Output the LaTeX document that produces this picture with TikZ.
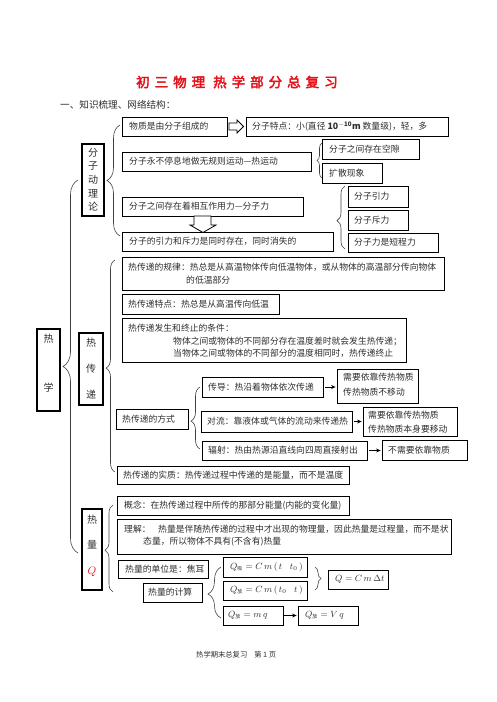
\documentclass[tikz,border=0pt]{standalone}
\usepackage{fontspec}
\setmainfont{Noto Sans CJK SC}
\newfontfamily\titlefont[FakeBold=3]{Noto Sans CJK SC}
\usetikzlibrary{decorations.pathreplacing,calc,fit,arrows.meta}
\newcommand\fs{\fontsize{8.8}{11}\selectfont}
\newcommand\tsp{\hspace{5pt}}
\definecolor{titlered}{RGB}{228,20,28}
\definecolor{txtc}{RGB}{45,45,45}
\begin{document}
\begin{tikzpicture}[x=1pt,y=-1pt,
  bx/.style={draw=black, line width=0.8pt, inner sep=0pt},
  hbx/.style={draw=black, line width=1.8pt, inner sep=0pt},
  txt/.style={anchor=west, inner sep=0pt, font=\fs, text=txtc},
  ctxt/.style={inner sep=0pt, font=\fontsize{10}{10}\selectfont, text=txtc},
  brc/.style={draw=black!75, line width=0.6pt, decorate},
  arr/.style={-{Stealth[length=4.5pt,width=4pt]}, line width=1pt, shorten <=2pt, shorten >=1pt},
  hollow/.style={draw=black, line width=0.8pt, fill=white}
]
\useasboundingbox (0,0) rectangle (496,702);

% title and heading
\node[inner sep=0pt, anchor=west, font=\titlefont\fontsize{13.5}{13.5}\selectfont, text=titlered] (title) at (136,82)
  {初\tsp 三\tsp 物\tsp 理\hspace{8pt}热\tsp 学\tsp 部\tsp 分\tsp 总\tsp 复\tsp 习};
\node[inner sep=0pt, anchor=west, font=\fontsize{9.6}{10}\selectfont, text=txtc] (head) at (60,105) {一、知识梳理、网络结构：};

% left column boxes
\node[hbx, fit={(37,329) (60,411)}] (L2) {};
\node[ctxt] (L2a) at (48.5,339) {热};
\node[ctxt] (L2b) at (48.5,388) {学};

\node[hbx, line width=1.5pt, fit={(82,144) (104,216)}] (L1) {};
\node[ctxt] (L1a) at (93,153) {分};
\node[ctxt] (L1b) at (93,166.5) {子};
\node[ctxt] (L1c) at (93,180) {动};
\node[ctxt] (L1d) at (93,193.5) {理};
\node[ctxt] (L1e) at (93,207) {论};

\node[hbx, line width=1.5pt, fit={(79,333) (103,405)}] (L3) {};
\node[ctxt] (L3a) at (91,343) {热};
\node[ctxt] (L3b) at (91,369) {传};
\node[ctxt] (L3c) at (91,395) {递};

\node[hbx, fit={(82,509) (102,590)}] (L4) {};
\node[ctxt] (L4a) at (92,520) {热};
\node[ctxt] (L4b) at (92,545) {量};
\node[ctxt, font=\fontsize{11}{11}\selectfont, text=titlered] (L4c) at (92,572) {$Q$};

% braces
\draw[brc, decoration={brace, amplitude=15pt, aspect=0.5}] (78,553) -- (78,180);
\draw[brc, decoration={brace, amplitude=13pt, aspect=0.5}] (120,236) -- (120,125);
\draw[brc, decoration={brace, amplitude=9pt, aspect=0.49}] (115,472) -- (115,260);
\draw[brc, decoration={brace, amplitude=8pt, aspect=0.48}] (113,592) -- (113,505);
\draw[brc, decoration={brace, amplitude=5pt, aspect=0.5}] (322,178) -- (322,143);
\draw[brc, decoration={brace, amplitude=8pt, aspect=0.45}] (345,249) -- (345,186);
\draw[brc, decoration={brace, amplitude=9pt, aspect=0.45}] (200,449) -- (200,387);
\draw[brc, decoration={brace, amplitude=13pt, aspect=0.47}] (221,618) -- (221,567);
\draw[brc, decoration={brace, amplitude=6pt, aspect=0.5}] (315,567) -- (315,590);

% 分子动理论
\node[bx, fit={(122,117) (227,136)}] (b1) {};
\node[txt] (b1t) at (129,126.5) {物质是由分子组成的};
\node[bx, fit={(246,117) (448,136)}] (b2) {};
\node[txt] (b2t) at (252,126.5) {分子特点：小(直径 {\bfseries 10$^{\mathbf{-10}}$m} 数量级)，轻，多};
\draw[hollow] (229,123) -- (237,123) -- (237,120) -- (243.5,126.5) -- (237,133) -- (237,130) -- (229,130) -- cycle;

\node[bx, fit={(122,152) (311,171)}] (b3) {};
\node[txt] (b3t) at (129,161.5) {分子永不停息地做无规则运动—热运动};
\node[bx, fit={(322,139) (419,159)}] (b4) {};
\node[txt] (b4t) at (329,149) {分子之间存在空隙};
\node[bx, fit={(322,163) (382,183)}] (b5) {};
\node[txt] (b5t) at (329,173) {扩散现象};

\node[bx, fit={(122,197) (303,216)}] (b6) {};
\node[txt] (b6t) at (129,206.5) {分子之间存在着相互作用力—分子力};
\node[bx, fit={(122,232) (333,251)}] (b7) {};
\node[txt] (b7t) at (129,241.5) {分子的引力和斥力是同时存在，同时消失的};
\draw[hollow] (194,216) -- (211,216) -- (211,225) -- (216,225) -- (203,232.5) -- (190,225) -- (194,225) -- cycle;

\node[bx, fit={(348,186) (408,207)}] (b8) {};
\node[txt] (b8t) at (354,196.5) {分子引力};
\node[bx, fit={(348,210) (408,230)}] (b9) {};
\node[txt] (b9t) at (354,220) {分子斥力};
\node[bx, fit={(348,233) (438,252)}] (b10) {};
\node[txt] (b10t) at (354,242.5) {分子力是短程力};

% 热传递
\node[bx, fit={(122,257) (444,290)}] (c1) {};
\node[txt] (c1a) at (128,267) {热传递的规律：热总是从高温物体传向低温物体，或从物体的高温部分传向物体};
\node[txt] (c1b) at (186,280) {的低温部分};
\node[bx, fit={(122,294) (279,314)}] (c2) {};
\node[txt] (c2t) at (128,304) {热传递特点：热总是从高温传向低温};
\node[bx, fit={(122,318) (406,362)}] (c3) {};
\node[txt] (c3a) at (128,328) {热传递发生和终止的条件：};
\node[txt] (c3b) at (173,341) {物体之间或物体的不同部分存在温度差时就会发生热传递；};
\node[txt] (c3c) at (173,353) {当物体之间或物体的不同部分的温度相同时，热传递终止};

\node[bx, fit={(202,377) (323,397)}] (d1) {};
\node[txt] (d1t) at (208,387) {传导：热沿着物体依次传递};
\node[bx, fit={(337,369) (418,403)}] (d2) {};
\node[txt] (d2a) at (343,377) {需要依靠传热物质};
\node[txt] (d2b) at (343,392) {传热物质不移动};
\node[bx, fit={(116,409) (188,429)}] (d3) {};
\node[txt] (d3t) at (122,419) {热传递的方式};
\node[bx, fit={(201,411) (352,432)}] (d4) {};
\node[txt] (d4t) at (207,421.5) {对流：靠液体或气体的流动来传递热};
\node[bx, fit={(363,407) (457,436)}] (d5) {};
\node[txt] (d5a) at (368,415.5) {需要依靠传热物质};
\node[txt] (d5b) at (368,429) {传热物质本身要移动};
\node[bx, fit={(202,441) (367,460)}] (d6) {};
\node[txt] (d6t) at (208,450.5) {辐射：热由热源沿直线向四周直接射出};
\node[bx, fit={(382,440) (467,460)}] (d7) {};
\node[txt] (d7t) at (388,450) {不需要依靠物质};
\node[bx, fit={(117,466) (349,484)}] (d8) {};
\node[txt] (d8t) at (123,475) {热传递的实质：热传递过程中传递的是能量，而不是温度};

\draw[arr] (d1.east) -- (d1.east -| d2.west);
\draw[arr] (d4.east) -- (d4.east -| d5.west);
\draw[arr] (d6.east) -- (d6.east -| d7.west);

% 热量
\node[bx, fit={(117,496) (349,515)}] (e1) {};
\node[txt] (e1t) at (124,505.5) {概念：在热传递过程中所传的那部分能量(内能的变化量)};
\node[bx, fit={(117,519) (451,554)}] (e2) {};
\node[txt] (e2a) at (124,529) {理解：};
\node[txt] (e2b) at (158,529) {热量是伴随热传递的过程中才出现的物理量，因此热量是过程量，而不是状};
\node[txt] (e2c) at (143,542) {态量，所以物体不具有(不含有)热量};
\node[bx, fit={(118,560) (208,578)}] (e3) {};
\node[txt] (e3t) at (125,569) {热量的单位是：焦耳};
\node[bx, fit={(143,583) (202,602)}] (e4) {};
\node[txt] (e4t) at (148,592.5) {热量的计算};

\node[bx, fit={(223,557) (307,577)}] (f1) {};
\node[txt] (f1t) at (230,567) {$Q_{\mbox{\fontsize{5}{5}\selectfont 吸}}=C\,m\,(\,t\;\;\;t_0\,)$};
\node[bx, fit={(223,581) (307,600)}] (f2) {};
\node[txt] (f2t) at (230,590.5) {$Q_{\mbox{\fontsize{5}{5}\selectfont 放}}=C\,m\,(\,t_0\;\;\;t\,)$};
\node[bx, fit={(328,570) (388,589)}] (f3) {};
\node[txt] (f3t) at (335,579.5) {$Q=C\,m\,\Delta t$};
\node[bx, fit={(223,606) (283,625)}] (f4) {};
\node[txt] (f4t) at (228,615.5) {$Q_{\mbox{\fontsize{5}{5}\selectfont 放}}=m\,q$};
\node[bx, fit={(298,606) (358,625)}] (f5) {};
\node[txt] (f5t) at (305,615.5) {$Q_{\mbox{\fontsize{5}{5}\selectfont 放}}=V\,q$};
\draw[arr, shorten <=0pt] (f4.east) -- (f5.west);

% footer
\node[inner sep=0pt, anchor=west, font=\fontsize{7.3}{8}\selectfont, text=txtc] (foot) at (196,655) {热学期末总复习\hspace{7pt}第 1 页};
\end{tikzpicture}
\end{document}
